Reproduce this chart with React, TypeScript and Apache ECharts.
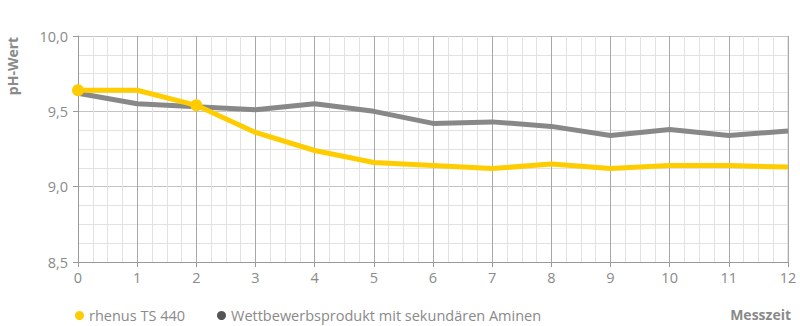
import React, { useEffect, useRef } from "react";
import * as echarts from "echarts";

// Measurement times (x) and pH values per product
const times = [0, 1, 2, 3, 4, 5, 6, 7, 8, 9, 10, 11, 12];
const rhenusValues = [9.64, 9.64, 9.54, 9.36, 9.24, 9.16, 9.14, 9.12, 9.15, 9.12, 9.14, 9.14, 9.13];
const competitorValues = [9.62, 9.55, 9.53, 9.51, 9.55, 9.5, 9.42, 9.43, 9.4, 9.34, 9.38, 9.34, 9.37];
const markedIndices = [0, 2];

const seriesNames = ["rhenus TS 440", "Wettbewerbsprodukt mit sekundären Aminen"];
const yAxisTitle = "pH-Wert";
const xAxisTitle = "Messzeit";

const FONT = "'Open Sans', 'Noto Sans', sans-serif";
const YELLOW = "#ffcc00";
const GREY_LINE = "#888888";
const TEXT = "#8a8a8a";

export default function App() {
  const ref = useRef<HTMLDivElement>(null);

  useEffect(() => {
    if (!ref.current) return;
    const chart = echarts.init(ref.current, undefined, { renderer: "svg" });

    const rhenusData = times.map((t, i) => ({
      value: [t, rhenusValues[i]],
      symbolSize: markedIndices.includes(i) ? 12 : 0,
    }));
    const competitorData = times.map((t, i) => [t, competitorValues[i]]);

    chart.setOption({
      animation: false,
      textStyle: { fontFamily: FONT },
      grid: { left: 78, right: 12, top: 36, bottom: 64 },
      legend: {
        left: 70,
        top: 303,
        icon: "circle",
        itemWidth: 9,
        itemHeight: 9,
        itemGap: 32,
        textStyle: { color: TEXT, fontSize: 14.5, fontFamily: FONT },
        data: [
          { name: seriesNames[0], itemStyle: { color: YELLOW } },
          { name: seriesNames[1], itemStyle: { color: "#555555" } },
        ],
      },
      xAxis: {
        type: "value",
        min: 0,
        max: 12,
        interval: 1,
        axisLine: { show: true, lineStyle: { color: "#999999", width: 1 } },
        axisTick: { show: true, length: 5, lineStyle: { color: "#999999" } },
        axisLabel: { color: TEXT, fontSize: 14.5, margin: 8, fontFamily: FONT },
        splitLine: { show: true, lineStyle: { color: "#a8a8a8", width: 1 } },
        minorTick: { show: false, splitNumber: 4 },
        minorSplitLine: { show: true, lineStyle: { color: "#e2e2e2", width: 1 } },
      },
      yAxis: {
        type: "value",
        min: 8.5,
        max: 10,
        interval: 0.5,
        axisLine: { show: true, lineStyle: { color: "#999999", width: 1 } },
        axisTick: { show: true, length: 5, lineStyle: { color: "#999999" } },
        axisLabel: {
          color: TEXT,
          fontSize: 14.5,
          margin: 10,
          fontFamily: FONT,
          formatter: (v: number) => v.toFixed(1).replace(".", ","),
        },
        splitLine: { show: true, lineStyle: { color: "#c4c4c4", width: 1 } },
        minorTick: { show: false, splitNumber: 4 },
        minorSplitLine: { show: true, lineStyle: { color: "#e2e2e2", width: 1 } },
      },
      graphic: [
        {
          type: "text",
          x: 12,
          y: 66,
          rotation: Math.PI / 2,
          style: {
            text: yAxisTitle,
            fill: TEXT,
            font: `bold 14px ${FONT}`,
            align: "center",
            verticalAlign: "middle",
          },
        },
        {
          type: "text",
          right: 9,
          top: 307,
          style: {
            text: xAxisTitle,
            fill: TEXT,
            font: `bold 14px ${FONT}`,
          },
        },
        {
          type: "line",
          shape: { x1: 788, y1: 36, x2: 788, y2: 262 },
          style: { stroke: "#cfcfcf", lineWidth: 1 },
          silent: true,
        },
      ],
      series: [
        {
          name: seriesNames[1],
          type: "line",
          data: competitorData,
          showSymbol: false,
          symbol: "none",
          lineStyle: { color: GREY_LINE, width: 5 },
          itemStyle: { color: "#555555" },
          z: 2,
        },
        {
          name: seriesNames[0],
          type: "line",
          data: rhenusData,
          symbol: "circle",
          showAllSymbol: true,
          lineStyle: { color: YELLOW, width: 5 },
          itemStyle: { color: YELLOW },
          z: 3,
        },
      ],
    });

    return () => chart.dispose();
  }, []);

  return (
    <div
      ref={ref}
      style={{ position: "fixed", left: 0, top: 0, width: 800, height: 326, background: "#ffffff" }}
    />
  );
}
